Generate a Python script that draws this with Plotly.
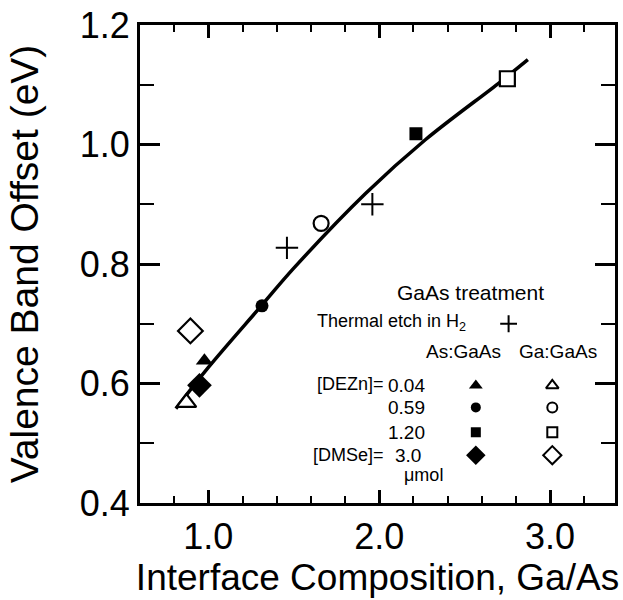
import plotly.graph_objects as go

# Interface composition (Ga/As) vs valence band offset (eV)
etch_x = [1.46, 1.96]
etch_y = [0.827, 0.900]

as_x = [0.977, 1.314, 2.215, 0.948]
as_y = [0.638, 0.730, 1.018, 0.597]

ga_x = [0.872, 1.660, 2.750, 0.895]
ga_y = [0.568, 0.868, 1.110, 0.688]

fit_x = [0.81, 1.00, 1.31, 1.50, 1.92, 2.27, 2.71, 2.87]
fit_y = [0.558, 0.627, 0.730, 0.793, 0.918, 1.008, 1.105, 1.142]

x_major = [1.0, 2.0, 3.0]
y_major = [0.4, 0.6, 0.8, 1.0, 1.2]

dezn_levels = ["0.04", "0.59", "1.20"]
dmse_level = "3.0"

filled_symbols = ["triangle-up", "circle", "square", "diamond"]
data_sizes = [15, 13, 13, 19]
open_sizes = [17, 15, 15, 19]
key_sizes = [12, 10, 10, 15]
key_open_sizes = [11, 10, 10, 14]

X_RANGE = [0.6, 3.38]
Y_RANGE = [0.4, 1.2]

FONT = "Arial, 'Liberation Sans', sans-serif"
L, R, T, B = 140, 5, 23, 97
W, H = 623, 600


def fx(f):
    """Horizontal plot-area fraction -> x data value."""
    return X_RANGE[0] + f * (X_RANGE[1] - X_RANGE[0])


def fy(f):
    """Vertical plot-area fraction -> y data value."""
    return Y_RANGE[0] + f * (Y_RANGE[1] - Y_RANGE[0])


fig = go.Figure()

# fitted trend curve
fig.add_trace(go.Scatter(x=fit_x, y=fit_y, mode="lines",
                         line=dict(color="black", width=3.5, shape="spline"), hoverinfo="skip"))

# thermal etch in H2
fig.add_trace(go.Scatter(x=etch_x, y=etch_y, mode="markers",
                         marker=dict(symbol="cross-thin", size=16, opacity=1,
                                     line=dict(color="black", width=2))))

# As:GaAs (filled) and Ga:GaAs (open) surfaces
fig.add_trace(go.Scatter(x=as_x, y=as_y, mode="markers",
                         marker=dict(symbol=filled_symbols, size=data_sizes, color="black", opacity=1,
                                     line=dict(color="black", width=0))))
fig.add_trace(go.Scatter(x=ga_x, y=ga_y, mode="markers",
                         marker=dict(symbol=filled_symbols, size=open_sizes, color="white", opacity=1,
                                     line=dict(color="black", width=2.2))))

# key symbols
key_rows = [0.246, 0.200, 0.148, 0.100]
col_as, col_ga = 0.707, 0.868
fig.add_trace(go.Scatter(x=[fx(col_as)] * 4, y=[fy(r) for r in key_rows], mode="markers",
                         marker=dict(symbol=filled_symbols, size=key_sizes, color="black", opacity=1,
                                     line=dict(color="black", width=0))))
fig.add_trace(go.Scatter(x=[fx(col_ga)] * 4, y=[fy(r) for r in key_rows], mode="markers",
                         marker=dict(symbol=filled_symbols, size=key_open_sizes, color="white", opacity=1,
                                     line=dict(color="black", width=2))))
fig.add_trace(go.Scatter(x=[fx(0.776)], y=[fy(0.375)], mode="markers",
                         marker=dict(symbol="cross-thin", size=12, opacity=1,
                                     line=dict(color="black", width=2))))

annotations = []


def txt(s, x, y, anchor="center", size=18):
    annotations.append(dict(text=s, x=x, y=y, xref="paper", yref="paper", xanchor=anchor,
                            yanchor="middle", showarrow=False,
                            font=dict(family=FONT, size=size, color="black")))


txt("GaAs treatment", 0.695, 0.440, size=21)
txt("Thermal etch in H<sub>2</sub>", 0.690, 0.377, anchor="right")
txt("As:GaAs", 0.680, 0.317, size=19)
txt("Ga:GaAs", 0.879, 0.317, size=19)
txt("[DEZn]=", 0.517, 0.250, anchor="right")
for lvl, yy in zip(dezn_levels, key_rows[:3]):
    txt(lvl, 0.605, yy, anchor="right", size=19)
txt("[DMSe]=", 0.517, key_rows[3], anchor="right")
txt(dmse_level, 0.596, key_rows[3], anchor="right", size=19)
txt("\u03bcmol", 0.597, 0.058)

axis_common = dict(showline=True, linecolor="black", linewidth=3, mirror="ticks", ticks="inside",
                   tickcolor="black", tickwidth=3, showgrid=False, zeroline=False,
                   tickfont=dict(family=FONT, size=36, color="black"))

fig.update_layout(
    width=W, height=H, margin=dict(l=L, r=R, t=T, b=B),
    paper_bgcolor="white", plot_bgcolor="white", showlegend=False,
    font=dict(family=FONT, color="black"),
    xaxis=dict(range=X_RANGE, tickmode="array", tickvals=x_major, tickformat=".1f",
               ticklen=13,
               minor=dict(dtick=0.2, tick0=0, ticklen=7, tickwidth=2, tickcolor="black", ticks="inside"),
               title=dict(text="Interface Composition, Ga/As",
                          font=dict(family=FONT, size=37, color="black"), standoff=8),
               **axis_common),
    yaxis=dict(range=Y_RANGE, tickmode="array", tickvals=y_major, tickformat=".1f",
               ticklen=20,
               minor=dict(dtick=0.1, tick0=0, ticklen=14, tickwidth=2, tickcolor="black", ticks="inside"),
               title=dict(text="Valence Band Offset (eV)",
                          font=dict(family=FONT, size=39, color="black"), standoff=30),
               **axis_common),
    annotations=annotations,
)

fig.write_html("out.html")
